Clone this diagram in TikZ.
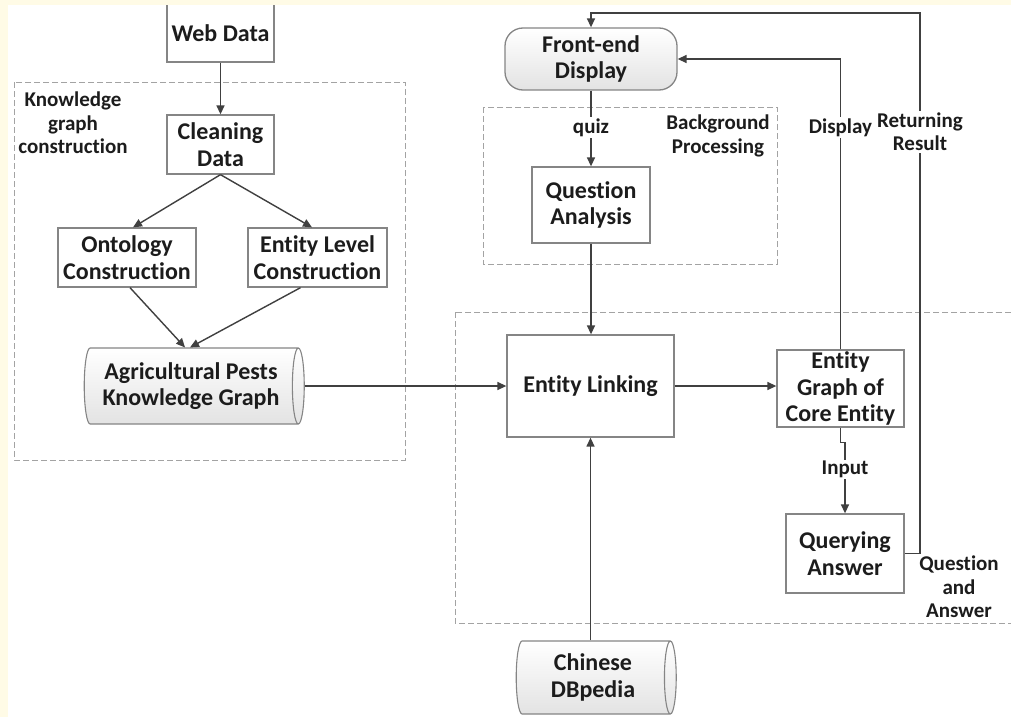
\documentclass[tikz,border=0pt]{standalone}
\usepackage{fontspec}
\setmainfont{Carlito}[Ligatures=NoCommon]
\usepackage{tikz}
\usetikzlibrary{shapes.geometric, arrows.meta, positioning, calc}

\definecolor{creambg}{HTML}{FFFBE6}
\definecolor{linegray}{HTML}{404040}
\definecolor{boxgray}{HTML}{858585}
\definecolor{dashgray}{HTML}{A3A3A3}
\definecolor{txtgray}{HTML}{1C1C1C}

\newcommand{\boxfont}{\fontsize{24}{26.5}\selectfont\bfseries}
\newcommand{\lblfont}{\fontsize{21}{23.5}\selectfont\bfseries}

\tikzset{
  procbox/.style={draw=boxgray, line width=1.3pt, fill=white, align=center, font=\boxfont, text=txtgray, inner sep=0pt},
  roundbox/.style={procbox, rounded corners=18pt, top color=white, bottom color=gray!22},
  dbshape/.style={cylinder, shape border rotate=0, aspect=0.25, draw=boxgray, line width=1.1pt, top color=white, bottom color=gray!22, align=center, font=\boxfont, text=txtgray, inner sep=0pt},
  grouparea/.style={draw=dashgray, line width=1pt, dash pattern=on 6pt off 3pt},
  flow/.style={draw=linegray, line width=1.4pt, -{Triangle[length=9pt,width=8pt]}},
  edgelbl/.style={fill=white, inner sep=1.5pt, font=\lblfont, text=txtgray, align=center},
  arealbl/.style={font=\lblfont, text=txtgray, align=center},
}

\begin{document}
\begin{tikzpicture}[x=1pt, y=-1pt]
    \useasboundingbox (0,0) rectangle (1011,717);
    \fill[white] (0,0) rectangle (1011,717);

    % dashed group areas
    \draw[grouparea] (14,82) rectangle (405,460);
    \draw[grouparea] (483,107) rectangle (777,264);
    \draw[grouparea] (455,312) rectangle (1016,623);
    \node[arealbl] (kglbl) at (73,123) {Knowledge\\graph\\construction};
    \node[arealbl] (bglbl) at (718,136) {Background\\Processing};
    \node[arealbl] (qalbl) at (959,587) {Question\\and\\Answer};

    % knowledge graph construction
    \node[procbox, minimum width=107, minimum height=58] (web) at (220.5,33) {Web Data};
    \node[procbox, minimum width=107, minimum height=59] (clean) at (220.5,144.5) {Cleaning\\Data};
    \node[procbox, minimum width=138, minimum height=59] (onto) at (127,257.5) {Ontology\\Construction};
    \node[procbox, minimum width=139, minimum height=59] (entlev) at (317.5,257.5) {Entity Level\\Construction};
    \node[dbshape, minimum width=76, minimum height=220] (agri) at (191,386) {Agricultural Pests\\Knowledge Graph};

    % front end and background processing
    \node[roundbox, minimum width=172, minimum height=62] (front) at (591,59) {Front-end\\Display};
    \node[procbox, minimum width=118, minimum height=76] (qa) at (591,205) {Question\\Analysis};

    % question and answer
    \node[procbox, minimum width=167, minimum height=102] (link) at (590.5,386) {Entity Linking};
    \node[procbox, minimum width=127, minimum height=77] (core) at (840.5,388.5) {Entity\\Graph of\\Core Entity};
    \node[procbox, minimum width=118, minimum height=79] (query) at (845,553.5) {Querying\\Answer};
    \node[dbshape, minimum width=73, minimum height=160] (dbp) at (593,677.5) {Chinese\\DBpedia};
    \coordinate (rr) at (920,13);

    % connectors
    \draw[flow] (web) -- (clean);
    \draw[flow] (clean.south) -- ([xshift=6]onto.north);
    \draw[flow] (clean.south) -- ([xshift=-5.5]entlev.north);
    \draw[flow] ([xshift=3]onto.south) -- ([xshift=-6]agri.north);
    \draw[flow] ([xshift=-17]entlev.south) -- ([xshift=-1]agri.north);
    \draw[flow] (agri.east) -- (agri.east -| link.west);
    \draw[flow] (front) -- node[edgelbl, pos=0.49] (quiz) {quiz} (qa);
    \draw[flow] (qa.south) -- (qa.south |- link.north);
    \draw[flow] (link.south |- dbp.north) -- (link.south);
    \draw[flow] (link.east) -- (link.east -| core.west);
    \draw[flow] (core.north) -- node[edgelbl, pos=0.763] (disp) {Display} (core.north |- front.east) -- (front.east);
    \draw[flow] (core.south) -- ++(0,15) -| node[edgelbl, pos=0.69] (inp) {Input} (query.north);
    \draw[flow] (query.east) -| node[edgelbl, pos=0.89] (ret) {Returning\\Result} (rr) -| (front.north);

    % cream page edge
    \fill[creambg] (0,0) rectangle (1011,5);
    \fill[creambg] (0,0) rectangle (8,717);
\end{tikzpicture}
\end{document}
